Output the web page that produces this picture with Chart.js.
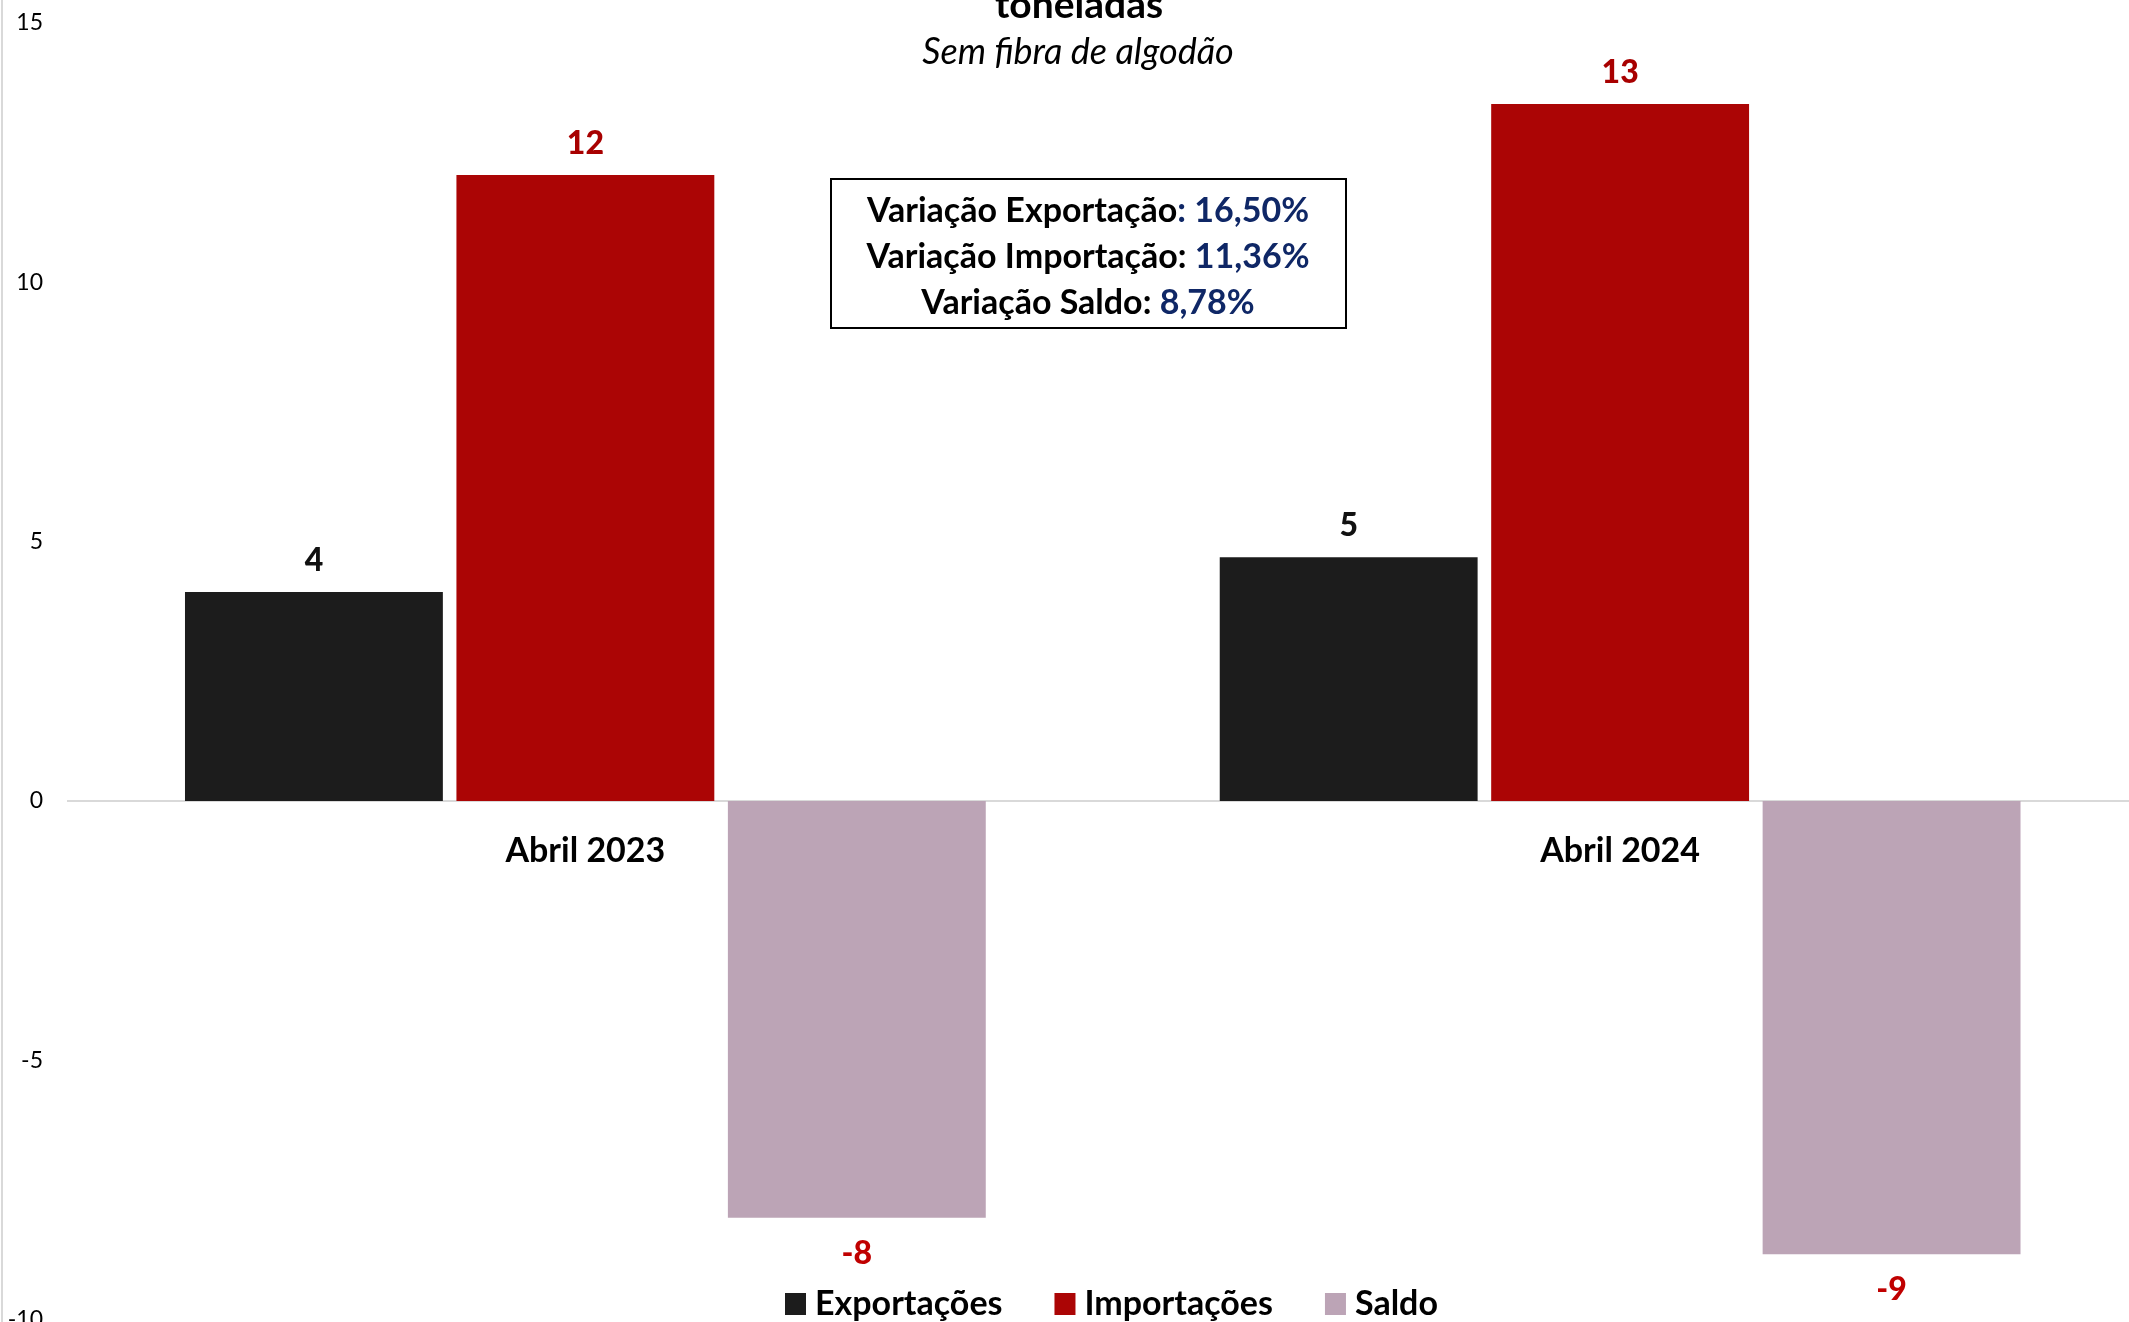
<!DOCTYPE html>
<html>
<head>
<meta charset="utf-8">
<script src="https://cdn.jsdelivr.net/npm/chart.js@4"></script>
<style>
  html, body { margin: 0; padding: 0; background: #fff; overflow: hidden; }
  #wrap { position: relative; width: 2129px; height: 1322px; overflow: hidden; background: #fff; }
  #c { position: absolute; left: 0; top: 0; }
</style>
</head>
<body>
<div id="wrap"><canvas id="c" width="2145" height="1345"></canvas></div>
<script>
// ---- data ----
const categories = ['Abril 2023', 'Abril 2024'];
const seriesNames = ['Exportações', 'Importações', 'Saldo'];
const exportacoes = [4.03, 4.70];
const importacoes = [12.07, 13.44];
const saldo = [-8.04, -8.74];
const yMin = -10, yMax = 15, yStep = 5;
const titleText = 'toneladas';
const subtitleText = 'Sem fibra de algodão';
const variacaoLabels = ['Variação Exportação', 'Variação Importação', 'Variação Saldo'];
const variacaoValues = ['16,50%', '11,36%', '8,78%'];

// ---- styles ----
const barColors = ['#1c1c1c', '#ab0505', '#bca4b6'];
const labelColors = ['#111111', '#a80000', '#c00000'];
const navy = '#0f2766';
const FONT = 'Lato';

const overlayPlugin = {
  id: 'overlay',
  beforeDraw(chart) {
    const ctx = chart.ctx;
    ctx.save();
    ctx.fillStyle = '#d9d9d9';
    ctx.fillRect(1, 0, 2, chart.height);
    ctx.restore();
  },
  afterDatasetsDraw(chart) {
    const ctx = chart.ctx;
    ctx.save();
    ctx.font = '900 32px ' + FONT;
    ctx.textAlign = 'center';
    ctx.textBaseline = 'middle';
    chart.data.datasets.forEach((ds, di) => {
      const meta = chart.getDatasetMeta(di);
      meta.data.forEach((bar, i) => {
        const v = ds.data[i];
        const txt = String(Math.round(v));
        ctx.fillStyle = labelColors[di];
        const y = v >= 0 ? bar.y - 31 : bar.y + 36;
        ctx.fillText(txt, bar.x, y);
      });
    });
    ctx.restore();
  },
  afterDraw(chart) {
    const ctx = chart.ctx;
    ctx.save();
    // title (cut at top) and subtitle
    ctx.textAlign = 'center';
    ctx.textBaseline = 'alphabetic';
    ctx.fillStyle = '#000';
    ctx.font = 'bold 39px ' + FONT;
    ctx.fillText(titleText, 1079, 18);
    ctx.font = 'italic 36px ' + FONT;
    ctx.fillText(subtitleText, 1078, 64);

    // text box
    ctx.lineWidth = 2;
    ctx.strokeStyle = '#000';
    ctx.fillStyle = '#fff';
    ctx.fillRect(831, 179, 515, 149);
    ctx.strokeRect(831, 179, 515, 149);
    ctx.font = 'bold 34px ' + FONT;
    ctx.textAlign = 'left';
    ctx.textBaseline = 'middle';
    const lineY = [211, 257, 303];
    variacaoLabels.forEach((lab, i) => {
      const colonBlue = (i === 0);
      const a = lab;
      const b = ': ';
      const c = variacaoValues[i];
      const wa = ctx.measureText(a).width, wb = ctx.measureText(b).width, wc = ctx.measureText(c).width;
      let x = 1088 - (wa + wb + wc) / 2;
      ctx.fillStyle = '#000';
      ctx.fillText(a, x, lineY[i]); x += wa;
      ctx.fillStyle = colonBlue ? navy : '#000';
      ctx.fillText(b, x, lineY[i]); x += wb;
      ctx.fillStyle = navy;
      ctx.fillText(c, x, lineY[i]);
    });

    // legend
    ctx.font = 'bold 34px ' + FONT;
    let lx = 785;
    const ly = 1304;
    chart.data.datasets.forEach((ds, di) => {
      ctx.fillStyle = ds.backgroundColor;
      ctx.fillRect(lx, ly - 11, 21, 22);
      lx += 21 + 9;
      ctx.fillStyle = '#000';
      ctx.fillText(ds.label, lx, ly);
      lx += ctx.measureText(ds.label).width + 52;
    });
    ctx.restore();
  }
};

function build() {
  new Chart(document.getElementById('c'), {
    type: 'bar',
    data: {
      labels: categories,
      datasets: [
        { label: seriesNames[0], data: exportacoes, backgroundColor: barColors[0] },
        { label: seriesNames[1], data: importacoes, backgroundColor: barColors[1] },
        { label: seriesNames[2], data: saldo, backgroundColor: barColors[2] }
      ]
    },
    options: {
      responsive: false,
      animation: false,
      devicePixelRatio: 1,
      layout: { padding: { left: 0, right: 7.5, top: 23, bottom: 25.5 } },
      datasets: { bar: { categoryPercentage: 0.787, barPercentage: 0.95 } },
      plugins: { legend: { display: false }, title: { display: false }, tooltip: { enabled: false } },
      scales: {
        x: {
          type: 'category',
          position: { y: 0 },
          grid: { display: false, drawTicks: false },
          border: { display: true, color: '#d9d9d9', width: 2 },
          ticks: { color: '#000', font: { family: FONT, weight: 'bold', size: 34 }, padding: 30 }
        },
        y: {
          min: yMin, max: yMax,
          grid: { display: false, drawTicks: false },
          border: { display: false },
          ticks: { stepSize: yStep, color: '#000', font: { family: FONT, size: 23 }, padding: 25 },
          afterFit(scale) { scale.width = 68; scale.paddingTop = 0; scale.paddingBottom = 0; }
        }
      }
    },
    plugins: [overlayPlugin]
  });
}

Promise.all([
  document.fonts.load('bold 34px Lato'),
  document.fonts.load('900 32px Lato'),
  document.fonts.load('italic 36px Lato'),
  document.fonts.load('23px Lato')
]).then(build, build);
</script>
</body>
</html>
